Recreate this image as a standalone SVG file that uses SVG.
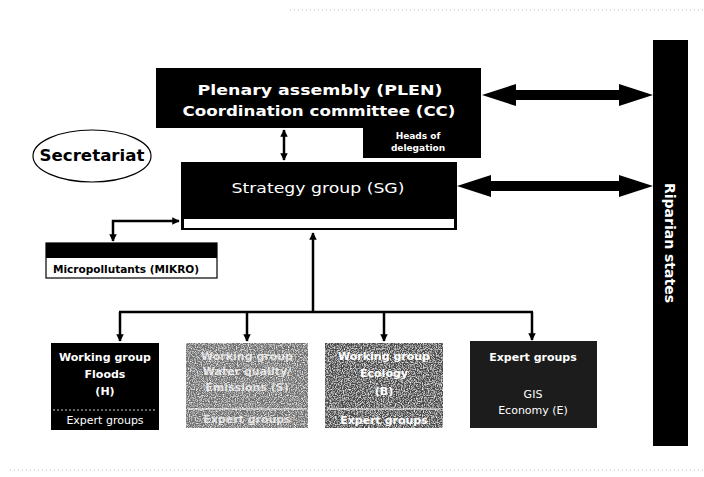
<svg xmlns="http://www.w3.org/2000/svg" width="704" height="477" viewBox="0 0 704 477">
<style>
.box{fill:#000}
.w{fill:#fff;font-family:"DejaVu Sans",Verdana,sans-serif}
.b{font-weight:bold}
.lbl{font-size:11px;text-anchor:middle}
.conn{stroke:#000;stroke-width:2.5;fill:none}
.big{fill:#000}
.noise{stroke:#bbb;stroke-width:1;stroke-dasharray:1 3;fill:none}
</style>
<defs>
<marker id="ah" viewBox="0 0 10 10" refX="9" refY="5" markerWidth="3" markerHeight="3" orient="auto-start-reverse" markerUnits="strokeWidth">
<path d="M0,0 L10,5 L0,10 z" fill="#000"/>
</marker>
<filter id="grain" x="0" y="0" width="1" height="1">
<feTurbulence type="fractalNoise" baseFrequency="0.85" numOctaves="2" seed="4" result="n"/>
<feColorMatrix in="n" type="matrix" values="0 0 0 0 1 0 0 0 0 1 0 0 0 0 1 0 0 0 2.2 -0.95" result="wn"/>
<feComposite in="wn" in2="SourceGraphic" operator="in" result="wc"/>
<feMerge><feMergeNode in="SourceGraphic"/><feMergeNode in="wc"/></feMerge>
</filter>
</defs>
<rect width="704" height="477" fill="#fff"/>
<line class="noise" x1="290" y1="10" x2="704" y2="10"/>
<line class="noise" x1="10" y1="470" x2="704" y2="470"/>

<g id="connectors">
<line class="conn" x1="284" y1="130" x2="284" y2="160" marker-start="url(#ah)" marker-end="url(#ah)"/>
<polyline class="conn" points="179,221 113,221 113,241" marker-start="url(#ah)" marker-end="url(#ah)"/>
<line class="conn" x1="313" y1="312" x2="313" y2="233" marker-end="url(#ah)"/>
<line class="conn" x1="119" y1="312" x2="533" y2="312"/>
<line class="conn" x1="120" y1="312" x2="120" y2="341" marker-end="url(#ah)"/>
<line class="conn" x1="247" y1="312" x2="247" y2="341" marker-end="url(#ah)"/>
<line class="conn" x1="384" y1="312" x2="384" y2="341" marker-end="url(#ah)"/>
<line class="conn" x1="532" y1="312" x2="532" y2="340" marker-end="url(#ah)"/>
<polygon class="big" points="482,95 516,84 516,90 619,90 619,84 653,95 619,106 619,100 516,100 516,106"/>
<polygon class="big" points="457,186 491,175 491,181 619,181 619,175 653,186 619,197 619,191 491,191 491,197"/>
</g>

<g id="plen">
<path class="box" d="M156,68 H481 V158 H363 V128 H156 Z"/>
<text class="w" x="320" y="95" font-size="14" text-anchor="middle" font-weight="bold" textLength="245" lengthAdjust="spacingAndGlyphs">Plenary assembly  (PLEN)</text>
<text class="w" x="319" y="116" font-size="14" text-anchor="middle" font-weight="bold" textLength="273" lengthAdjust="spacingAndGlyphs">Coordination committee (CC)</text>
<text class="w b" x="418" y="139" font-size="9" text-anchor="middle">Heads of</text>
<text class="w b" x="418" y="151" font-size="9" text-anchor="middle">delegation</text>
</g>

<g id="secretariat">
<ellipse cx="92" cy="156" rx="59" ry="26" fill="#fff" stroke="#000" stroke-width="1.2"/>
<text x="92" y="161" font-family="DejaVu Sans,Verdana,sans-serif" font-weight="bold" font-size="15" text-anchor="middle" textLength="105" lengthAdjust="spacingAndGlyphs">Secretariat</text>
</g>

<g id="sg">
<rect class="box" x="181" y="162" width="276" height="68"/>
<rect x="184" y="219" width="270" height="9" fill="#fff"/>
<text class="w" x="318" y="193" font-size="14" text-anchor="middle" textLength="173" lengthAdjust="spacingAndGlyphs">Strategy group (SG)</text>
</g>

<g id="mikro">
<rect x="46" y="243" width="171" height="35" fill="#fff" stroke="#000" stroke-width="1.2"/>
<rect class="box" x="46" y="243" width="171" height="15"/>
<text x="53" y="273" font-family="DejaVu Sans,Verdana,sans-serif" font-weight="bold" font-size="11" textLength="146" lengthAdjust="spacingAndGlyphs">Micropollutants (MIKRO)</text>
</g>

<g id="riparian">
<rect class="box" x="653" y="40" width="35" height="406"/>
<text class="w b" transform="translate(665,243) rotate(90)" font-size="14" text-anchor="middle">Riparian states</text>
</g>

<g id="wg-floods">
<rect class="box" x="51" y="343" width="108" height="87"/>
<line x1="53" y1="410" x2="157" y2="410" stroke="#fff" stroke-width="0.8" stroke-dasharray="2 2"/>
<text class="w b lbl" x="105" y="361">Working group</text>
<text class="w b lbl" x="105" y="378">Floods</text>
<text class="w b lbl" x="105" y="395">(H)</text>
<text class="w lbl" x="105" y="424" font-size="10">Expert groups</text>
</g>

<g id="wg-water">
<rect x="186" y="343" width="122" height="85" fill="#6e6e6e" filter="url(#grain)"/>
<line x1="188" y1="409" x2="306" y2="409" stroke="#fff" stroke-width="1"/>
<text class="w b lbl" x="247" y="360" fill-opacity="0.75">Working group</text>
<text class="w b lbl" x="247" y="375" fill-opacity="0.75">Water quality/</text>
<text class="w b lbl" x="247" y="391" fill-opacity="0.75">Emissions (S)</text>
<text class="w b lbl" x="247" y="423" font-size="10" fill-opacity="0.75">Expert groups</text>
</g>

<g id="wg-ecology">
<rect x="325" y="343" width="118" height="85" fill="#4a4a4a" filter="url(#grain)"/>
<line x1="327" y1="409" x2="441" y2="409" stroke="#fff" stroke-width="1"/>
<text class="w b lbl" x="384" y="360">Working group</text>
<text class="w b lbl" x="384" y="377">Ecology</text>
<text class="w b lbl" x="384" y="395">(B)</text>
<text class="w b lbl" x="384" y="424" font-size="10">Expert groups</text>
</g>

<g id="expert-groups">
<rect x="470" y="341" width="127" height="87" fill="#1c1c1c"/>
<text class="w b lbl" x="533" y="361">Expert groups</text>
<text class="w lbl" x="533" y="398" font-size="10">GIS</text>
<text class="w lbl" x="533" y="414" font-size="10">Economy (E)</text>
</g>
</svg>
